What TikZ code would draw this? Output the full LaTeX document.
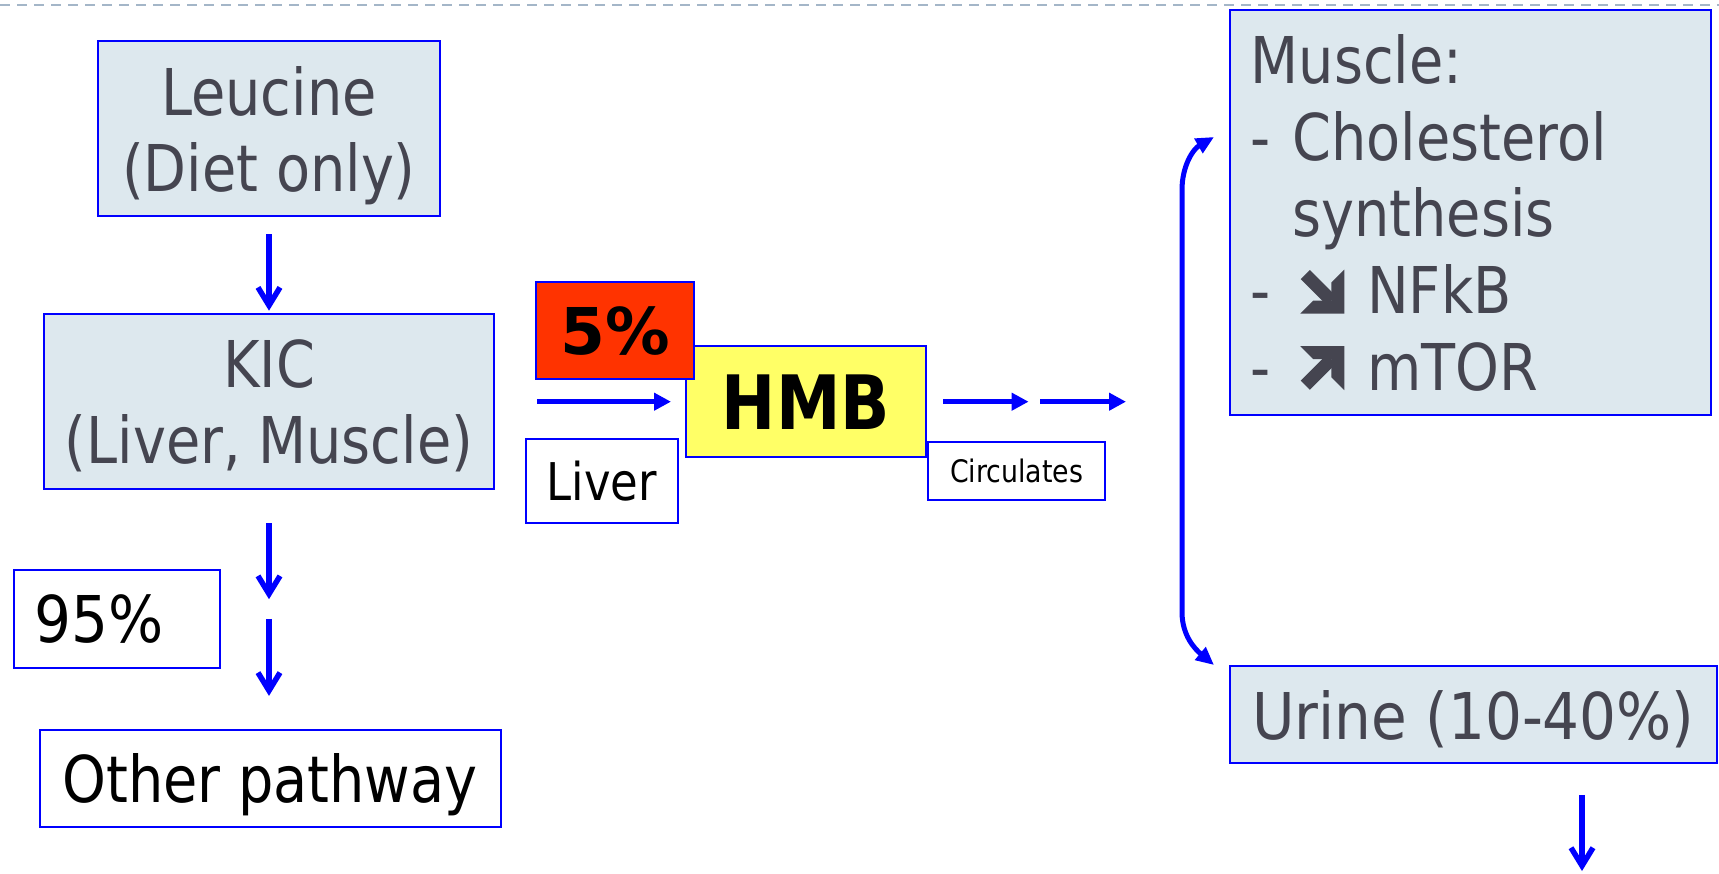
\documentclass[tikz,border=0pt]{standalone}
\usepackage{fontspec}
\setmainfont[FakeStretch=0.96]{DejaVu Sans Condensed}
\newfontfamily\digitfont{DejaVu Sans Condensed}
\newfontfamily\wideboldfont{DejaVu Sans Bold}
\usetikzlibrary{calc, arrows.meta}

\definecolor{boxBlue}{RGB}{0,0,255}
\definecolor{boxFill}{RGB}{221,232,238}
\definecolor{textGrey}{RGB}{69,69,80}
\definecolor{hmbYellow}{RGB}{255,255,102}
\definecolor{pctRed}{RGB}{255,51,0}
\definecolor{ruleGrey}{RGB}{164,182,200}

\newcommand{\bigtxt}{\fontsize{64.5}{76.6}\selectfont}
% heavy trend arrows
\newcommand{\trendDown}{\tikz[baseline=0pt,x=1pt,y=1pt]{%
  \fill[textGrey] (44,0) -- (44,44) -- (31,31) -- (31,13) -- (13,13) -- (0,0) -- cycle;
  \draw[textGrey, line width=13pt] (5,39) -- (31,13);}}
\newcommand{\trendUp}{\tikz[baseline=0pt,x=1pt,y=1pt]{%
  \fill[textGrey] (44,44) -- (44,0) -- (31,13) -- (31,31) -- (13,31) -- (0,44) -- cycle;
  \draw[textGrey, line width=13pt] (5,5) -- (31,31);}}

\tikzset{
  stage/.style={draw=boxBlue, line width=2pt, fill=boxFill, text=textGrey,
    inner sep=0pt, text depth=0pt, align=center, font=\bigtxt},
  tag/.style={draw=boxBlue, line width=2pt, fill=white, text=black,
    inner sep=0pt, text depth=0pt, align=center},
  downArrow/.style={draw=boxBlue, line width=5.5pt,
    -{Straight Barb[length=18pt,width=22pt]}},
  sideArrow/.style={draw=boxBlue, line width=5.5pt,
    -{Triangle[length=17pt,width=17pt]}},
  bothArrow/.style={draw=boxBlue, line width=5pt,
    {Triangle[length=18pt,width=16pt]}-{Triangle[length=18pt,width=16pt]}},
}

\begin{document}
\begin{tikzpicture}[x=1pt,y=1pt]
\useasboundingbox (0,0) rectangle (1719,-874);

% dashed rule along the top
\draw[ruleGrey, line width=1.5pt, dash pattern=on 10pt off 7pt] (0,-5) -- (1719,-5);

% left column
\node[stage, minimum width=342pt, minimum height=175pt] (leucine) at (269,-129) {Leucine\\(Diet only)};
\node[stage, minimum width=450pt, minimum height=175pt] (kic) at (269,-401.7) {KIC\\(Liver, Muscle)};
\node[tag, font=\bigtxt\digitfont, minimum width=206pt, minimum height=98pt,
  inner xsep=21pt, text width=164pt, align=left] (share) at (116.5,-619) {95\%};
\node[tag, font=\bigtxt, minimum width=461pt, minimum height=97pt] (other) at (270,-778) {Other pathway};

% middle
\node[draw=boxBlue, line width=2pt, fill=hmbYellow, inner sep=0pt, text depth=0pt,
  minimum width=240pt, minimum height=111pt,
  font=\fontsize{75}{90}\selectfont\bfseries] (hmb) at (806,-401.7) {HMB};
\node[draw=boxBlue, line width=2pt, fill=pctRed, inner sep=0pt, text depth=0pt,
  minimum width=158pt, minimum height=97pt, font=\bigtxt\wideboldfont] (five) at (615,-330.3) {5\%};
\node[tag, font=\fontsize{52}{62}\selectfont, minimum width=152pt, minimum height=84pt] (liver) at (602,-480.5) {Liver};
\node[tag, font=\fontsize{31}{37}\selectfont, minimum width=177pt, minimum height=58pt] (circ) at (1016.6,-470.5) {Circulates};

% right column
\node[stage, minimum width=481pt, minimum height=405pt, inner xsep=21pt,
  text width=439pt, align=left, text depth=306.4pt] (muscle) at (1470.2,-212.5)
  {Muscle:\\- Cholesterol\\\phantom{- }synthesis\\
   -\hspace{28pt}\trendDown\hspace{23pt}NFkB\\
   -\hspace{28pt}\trendUp\hspace{23pt}mTOR};
\node[stage, font=\bigtxt\digitfont, minimum width=487pt, minimum height=97pt] (urine) at (1473.4,-714.7) {Urine (10-40\%)};

% arrows down the left column
\draw[downArrow, shorten <=17pt, shorten >=2.5pt] (leucine.south) -- (kic.north);
\draw[downArrow, shorten <=33pt, shorten >=129.3pt] (kic.south) -- (kic.south |- other.north);
\draw[downArrow, shorten <=128.7pt, shorten >=32.6pt] (kic.south) -- (kic.south |- other.north);

% into and out of HMB
\coordinate (liverIn) at (537,-401.7);
\coordinate (bloodOut) at (1126,-401.7);
\draw[sideArrow, shorten >=14pt] (liverIn) -- (hmb.west);
\draw[sideArrow, shorten <=16.4pt, shorten >=97.4pt] (hmb.east) -- (bloodOut);
\draw[sideArrow, shorten <=113pt] (hmb.east) -- (bloodOut);

% to muscle and urine
\coordinate (toMuscle) at (1214,-137);
\coordinate (toUrine) at (1214,-665);
\draw[bothArrow] (toMuscle) to[out=210,in=90] (1182,-190) -- (1182,-612) to[out=-90,in=140] (toUrine);

% out of the body
\coordinate (excreted) at (1582,-871);
\draw[downArrow, shorten <=30.7pt] (excreted |- urine.south) -- (excreted);
\end{tikzpicture}
\end{document}
